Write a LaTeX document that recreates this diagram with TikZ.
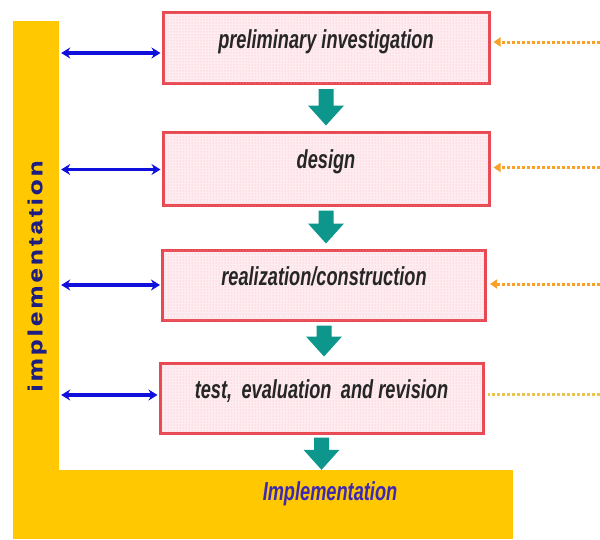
\documentclass[tikz,border=0pt]{standalone}
\usepackage{fontspec}
\usetikzlibrary{patterns,calc,arrows.meta}
\newfontfamily\boxfont[FakeStretch=0.70]{Liberation Sans}
\newfontfamily\vfont[FakeStretch=1.3,LetterSpace=15,FakeBold=1]{Liberation Sans}
\newfontfamily\impfont[FakeStretch=0.70]{Liberation Sans}
\definecolor{barY}{RGB}{255,200,0}
\definecolor{boxR}{RGB}{232,72,82}
\definecolor{boxF}{RGB}{253,236,241}
\definecolor{tealA}{RGB}{12,150,140}
\definecolor{blueA}{RGB}{16,16,220}
\definecolor{orA}{RGB}{248,160,40}
\definecolor{yeA}{RGB}{235,195,80}
\definecolor{navy}{RGB}{30,30,130}
\definecolor{purp}{RGB}{60,40,180}
\newcommand\tealdown[2]{%
  \fill[tealA] let \p1=(#1), \p2=(#2) in
    (\x1-7.5pt,\y1) -- (\x1+7.5pt,\y1) -- (\x1+7.5pt,\y2+20pt) -- (\x1+18pt,\y2+20pt)
    -- (\x1,\y2) -- (\x1-18pt,\y2+20pt) -- (\x1-7.5pt,\y2+20pt) -- cycle;}
\tikzset{
  stepbox/.style={draw=boxR, line width=3pt, fill=boxF,
    postaction={pattern=dots, pattern color=red!30},
    minimum width=326pt, minimum height=71pt, inner sep=0pt,
    text height=0pt, text depth=0pt,
    font=\boxfont\bfseries\itshape\fontsize{26}{28}\selectfont, text=black!85},
  link/.style={blueA, line width=3.4pt, {Stealth[length=9pt,width=11pt]}-{Stealth[length=9pt,width=11pt]}},
  input/.style={orA, line width=3pt, dotted, -{Triangle[length=7pt,width=9pt]}},
  barbox/.style={fill=barY, draw=none, inner sep=0pt}
}
\begin{document}
\begin{tikzpicture}[x=1pt,y=-1pt]
\useasboundingbox (0,0) rectangle (600,539);
% yellow L
\node[barbox, minimum width=46pt, minimum height=518pt] (bar) at (36,280) {};
\node[barbox, minimum width=500pt, minimum height=69pt] (base) at (263,504.5) {};
\node[rotate=90, font=\vfont\bfseries\fontsize{20}{22}\selectfont, text=navy] (vlabel) at (37,276) {implementation};
\node[font=\impfont\bfseries\itshape\fontsize{26}{28}\selectfont, text=purp] (blabel) at (330,494) {Implementation};
% boxes
\node[stepbox] (b1) at (326,48) {preliminary investigation};
\node[stepbox, minimum height=73pt] (b2) at (326,168.5) {design};
\node[stepbox, minimum height=70pt, minimum width=323pt] (b3) at (324,285) {realization/construction};
\node[stepbox, minimum height=70pt, minimum width=323pt] (b4) at (321.5,398) {test,\, evaluation\, and revision};
% teal arrows
\coordinate (t1) at ([yshift=-4pt]b1.south);
\coordinate (t2) at ([yshift=-4pt]b2.south);
\coordinate (t3) at ([yshift=-4pt]b3.south);
\coordinate (t4) at ([yshift=-3pt]b4.south);
\tealdown{t1}{[yshift=5pt]b2.north}
\tealdown{t2}{[yshift=5pt]b3.north}
\tealdown{t3}{[yshift=5pt]b4.north}
\tealdown{t4}{base.north -| t4}
% blue links
\draw[link] ([xshift=2pt,yshift=-5pt]bar.east |- b1.west) -- ([xshift=-1pt,yshift=-5pt]b1.west);
\draw[link] ([xshift=2pt,yshift=-1pt]bar.east |- b2.west) -- ([xshift=-1pt,yshift=-1pt]b2.west);
\draw[link] ([xshift=2pt]bar.east |- b3.west) -- ([xshift=-1pt]b3.west);
\draw[link] ([xshift=2pt,yshift=3pt]bar.east |- b4.west) -- ([xshift=-1pt,yshift=3pt]b4.west);
% right inputs
\coordinate (edge) at (600,0);
\draw[input] ([yshift=6pt]b1.east -| edge) -- ([xshift=3pt,yshift=6pt]b1.east);
\draw[input] ([yshift=1pt]b2.east -| edge) -- ([xshift=3pt,yshift=1pt]b2.east);
\draw[input] ([yshift=1pt]b3.east -| edge) -- ([xshift=3pt,yshift=1pt]b3.east);
\draw[yeA, line width=3pt, dotted] ([yshift=4pt]b4.east -| edge) -- ([xshift=3pt,yshift=4pt]b4.east);
\end{tikzpicture}
\end{document}
